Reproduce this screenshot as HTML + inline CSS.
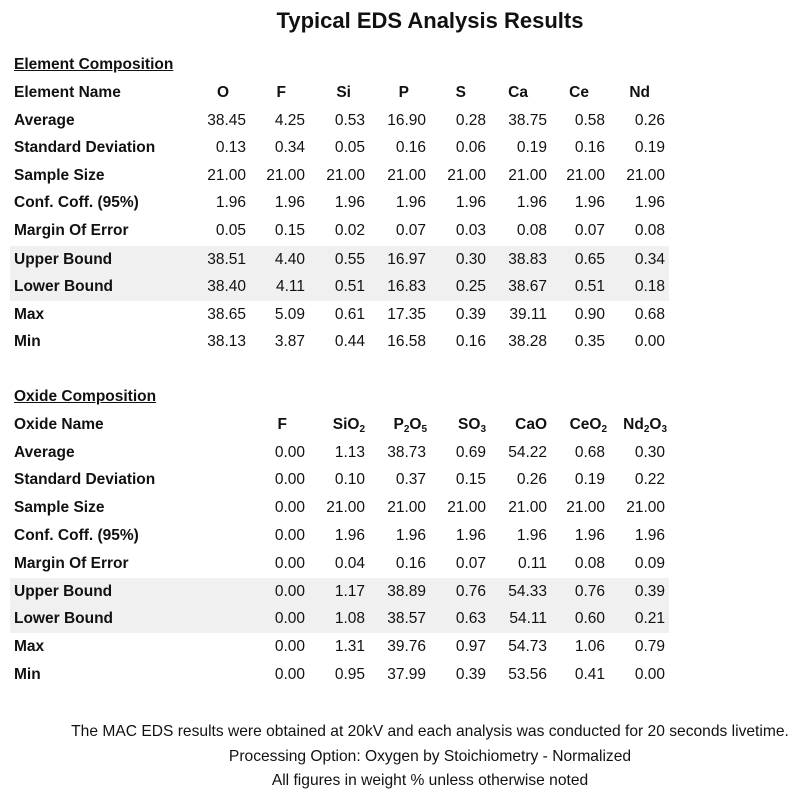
<!DOCTYPE html>
<html><head><meta charset="utf-8"><style>
body{margin:0;width:799px;height:800px;background:#fff;font-family:"Liberation Sans",Arial,sans-serif;color:#111;position:relative;overflow:hidden}
.r{position:absolute;left:0;width:799px;height:18px;line-height:18px;font-size:15.5px}
.r span{position:absolute;text-align:right;width:60px}
.l{left:14px!important;text-align:left!important;width:300px!important;font-weight:bold}
.h span{font-weight:bold}
.c1{right:553px}.c2{right:494px}.c3{right:434px}.c4{right:373px}.c5{right:313px}.c6{right:252px}.c7{right:194px}.c8{right:134px}
.band{position:absolute;left:10px;width:659px;height:55px;background:#f0f0f0}
.t{position:absolute;font-weight:bold;text-decoration:underline;left:14px;font-size:15.5px}
.f{position:absolute;left:0;width:860px;text-align:center;font-size:15.6px}
sub{font-size:10px;vertical-align:-3px;line-height:0}
</style></head><body>
<div style="position:absolute;top:8px;left:0;width:860px;text-align:center;font-weight:bold;font-size:22px">Typical EDS Analysis Results</div>
<div class="band" style="top:246px"></div>
<div class="band" style="top:578px"></div>
<div class="t" style="top:56px">Element Composition</div>
<div class="r h" style="top:84px"><span class="l">Element Name</span><span class="c1" style="right:570px">O</span><span class="c2" style="right:513px">F</span><span class="c3" style="right:448px">Si</span><span class="c4" style="right:390px">P</span><span class="c5" style="right:333px">S</span><span class="c6" style="right:271px">Ca</span><span class="c7" style="right:210px">Ce</span><span class="c8" style="right:149px">Nd</span></div>
<div class="r" style="top:112px"><span class="l">Average</span><span class="c1">38.45</span><span class="c2">4.25</span><span class="c3">0.53</span><span class="c4">16.90</span><span class="c5">0.28</span><span class="c6">38.75</span><span class="c7">0.58</span><span class="c8">0.26</span></div>
<div class="r" style="top:139px"><span class="l">Standard Deviation</span><span class="c1">0.13</span><span class="c2">0.34</span><span class="c3">0.05</span><span class="c4">0.16</span><span class="c5">0.06</span><span class="c6">0.19</span><span class="c7">0.16</span><span class="c8">0.19</span></div>
<div class="r" style="top:167px"><span class="l">Sample Size</span><span class="c1">21.00</span><span class="c2">21.00</span><span class="c3">21.00</span><span class="c4">21.00</span><span class="c5">21.00</span><span class="c6">21.00</span><span class="c7">21.00</span><span class="c8">21.00</span></div>
<div class="r" style="top:194px"><span class="l">Conf. Coff. (95%)</span><span class="c1">1.96</span><span class="c2">1.96</span><span class="c3">1.96</span><span class="c4">1.96</span><span class="c5">1.96</span><span class="c6">1.96</span><span class="c7">1.96</span><span class="c8">1.96</span></div>
<div class="r" style="top:222px"><span class="l">Margin Of Error</span><span class="c1">0.05</span><span class="c2">0.15</span><span class="c3">0.02</span><span class="c4">0.07</span><span class="c5">0.03</span><span class="c6">0.08</span><span class="c7">0.07</span><span class="c8">0.08</span></div>
<div class="r" style="top:251px"><span class="l">Upper Bound</span><span class="c1">38.51</span><span class="c2">4.40</span><span class="c3">0.55</span><span class="c4">16.97</span><span class="c5">0.30</span><span class="c6">38.83</span><span class="c7">0.65</span><span class="c8">0.34</span></div>
<div class="r" style="top:278px"><span class="l">Lower Bound</span><span class="c1">38.40</span><span class="c2">4.11</span><span class="c3">0.51</span><span class="c4">16.83</span><span class="c5">0.25</span><span class="c6">38.67</span><span class="c7">0.51</span><span class="c8">0.18</span></div>
<div class="r" style="top:306px"><span class="l">Max</span><span class="c1">38.65</span><span class="c2">5.09</span><span class="c3">0.61</span><span class="c4">17.35</span><span class="c5">0.39</span><span class="c6">39.11</span><span class="c7">0.90</span><span class="c8">0.68</span></div>
<div class="r" style="top:333px"><span class="l">Min</span><span class="c1">38.13</span><span class="c2">3.87</span><span class="c3">0.44</span><span class="c4">16.58</span><span class="c5">0.16</span><span class="c6">38.28</span><span class="c7">0.35</span><span class="c8">0.00</span></div>

<div class="t" style="top:388px">Oxide Composition</div>
<div class="r h" style="top:416px"><span class="l">Oxide Name</span><span class="c2" style="right:512px">F</span><span class="c3" style="right:434px">SiO<sub>2</sub></span><span class="c4" style="right:372px">P<sub>2</sub>O<sub>5</sub></span><span class="c5" style="right:313px">SO<sub>3</sub></span><span class="c6" style="right:252px">CaO</span><span class="c7" style="right:192px">CeO<sub>2</sub></span><span class="c8" style="right:132px">Nd<sub>2</sub>O<sub>3</sub></span></div>
<div class="r" style="top:444px"><span class="l">Average</span><span class="c2">0.00</span><span class="c3">1.13</span><span class="c4">38.73</span><span class="c5">0.69</span><span class="c6">54.22</span><span class="c7">0.68</span><span class="c8">0.30</span></div>
<div class="r" style="top:471px"><span class="l">Standard Deviation</span><span class="c2">0.00</span><span class="c3">0.10</span><span class="c4">0.37</span><span class="c5">0.15</span><span class="c6">0.26</span><span class="c7">0.19</span><span class="c8">0.22</span></div>
<div class="r" style="top:499px"><span class="l">Sample Size</span><span class="c2">0.00</span><span class="c3">21.00</span><span class="c4">21.00</span><span class="c5">21.00</span><span class="c6">21.00</span><span class="c7">21.00</span><span class="c8">21.00</span></div>
<div class="r" style="top:527px"><span class="l">Conf. Coff. (95%)</span><span class="c2">0.00</span><span class="c3">1.96</span><span class="c4">1.96</span><span class="c5">1.96</span><span class="c6">1.96</span><span class="c7">1.96</span><span class="c8">1.96</span></div>
<div class="r" style="top:555px"><span class="l">Margin Of Error</span><span class="c2">0.00</span><span class="c3">0.04</span><span class="c4">0.16</span><span class="c5">0.07</span><span class="c6">0.11</span><span class="c7">0.08</span><span class="c8">0.09</span></div>
<div class="r" style="top:583px"><span class="l">Upper Bound</span><span class="c2">0.00</span><span class="c3">1.17</span><span class="c4">38.89</span><span class="c5">0.76</span><span class="c6">54.33</span><span class="c7">0.76</span><span class="c8">0.39</span></div>
<div class="r" style="top:610px"><span class="l">Lower Bound</span><span class="c2">0.00</span><span class="c3">1.08</span><span class="c4">38.57</span><span class="c5">0.63</span><span class="c6">54.11</span><span class="c7">0.60</span><span class="c8">0.21</span></div>
<div class="r" style="top:638px"><span class="l">Max</span><span class="c2">0.00</span><span class="c3">1.31</span><span class="c4">39.76</span><span class="c5">0.97</span><span class="c6">54.73</span><span class="c7">1.06</span><span class="c8">0.79</span></div>
<div class="r" style="top:666px"><span class="l">Min</span><span class="c2">0.00</span><span class="c3">0.95</span><span class="c4">37.99</span><span class="c5">0.39</span><span class="c6">53.56</span><span class="c7">0.41</span><span class="c8">0.00</span></div>

<div class="f" style="top:723px">The MAC EDS results were obtained at 20kV and each analysis was conducted for 20 seconds livetime.</div>
<div class="f" style="top:748px">Processing Option: Oxygen by Stoichiometry - Normalized</div>
<div class="f" style="top:772px">All figures in weight % unless otherwise noted</div>
</body></html>
